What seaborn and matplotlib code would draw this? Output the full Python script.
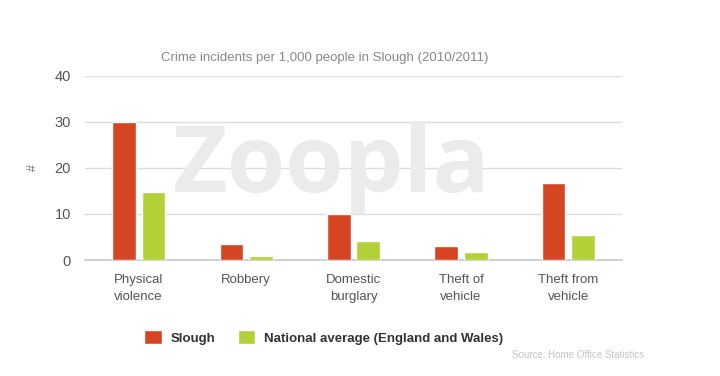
import matplotlib
matplotlib.use("Agg")
import matplotlib.pyplot as plt
import pandas as pd
import seaborn as sns
from matplotlib.ticker import FixedLocator

categories = ["Physical\nviolence", "Robbery", "Domestic\nburglary", "Theft of\nvehicle", "Theft from\nvehicle"]
series = ["Slough", "National average (England and Wales)"]
slough = [30.0, 3.5, 9.9, 3.1, 16.7]
national = [14.7, 0.9, 4.1, 1.7, 5.4]
colors = ["#d64521", "#b1d136"]

df = pd.DataFrame({
    "category": categories * 2,
    "series": [series[0]] * 5 + [series[1]] * 5,
    "value": slough + national,
})

sns.set_style("white")
plt.rcParams["font.family"] = ["Liberation Sans", "DejaVu Sans"]

fig = plt.figure(figsize=(7.2, 3.76), dpi=100)
ax = fig.add_axes([0.118, 0.3085, 0.746, 0.4895])

# watermark
fig.text(0.46, 0.49, "Zoopla", fontsize=68, fontweight="bold", color="#ebebeb",
         ha="center", va="baseline", zorder=0, family="Open Sans", fontstretch="expanded")
ax.patch.set_alpha(0)

sns.barplot(data=df, x="category", y="value", hue="series", palette=colors,
            width=0.55, gap=0.2, saturation=1, ax=ax, legend=True, zorder=3)

ax.set_ylim(0, 40)
ax.set_xlim(-0.5, 4.5)
ax.set_yticks([0, 10, 20, 30, 40])
ax.yaxis.grid(True, color="#dddddd", linewidth=1)
ax.set_axisbelow(True)
for s in ["top", "right", "left"]:
    ax.spines[s].set_visible(False)
ax.spines["bottom"].set_color("#c8c8c8")
ax.spines["bottom"].set_linewidth(1.2)

ax.tick_params(axis="y", length=0, labelsize=10.5, labelcolor="#555555", pad=10)
ax.tick_params(axis="x", which="major", length=0, labelsize=9.5, labelcolor="#555555", pad=10)
for t in ax.get_xticklabels():
    t.set_linespacing(1.55)
ax.xaxis.set_minor_locator(FixedLocator([-0.5, 0.5, 1.5, 2.5, 3.5, 4.5]))
ax.tick_params(axis="x", which="minor", length=10, color="#c8c8c8", width=1.2, direction="out")

ax.set_xlabel("")
ax.set_ylabel("#", fontsize=9, color="#777777")
ax.yaxis.set_label_coords(-0.085, 0.5)
fig.text(0.451, 0.845, "Crime incidents per 1,000 people in Slough (2010/2011)",
         fontsize=9.5, color="#888888", ha="center", va="center")

handles, labels = ax.get_legend_handles_labels()
ax.get_legend().remove()
fig.legend(handles, labels, loc="center", bbox_to_anchor=(0.45, 0.103), ncol=2, frameon=False,
           prop={"weight": "bold", "size": 9.5}, handlelength=1.3, handleheight=1.3,
           columnspacing=1.7, handletextpad=0.7, labelcolor="#333333")

fig.text(0.895, 0.055, "Source: Home Office Statistics", fontsize=7, color="#c4c4c4",
         ha="right", va="center")

fig.savefig("out.png", dpi=100)
